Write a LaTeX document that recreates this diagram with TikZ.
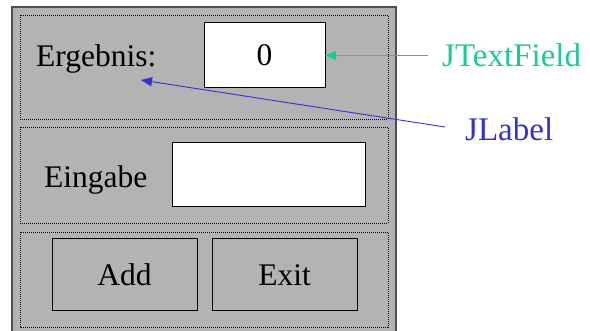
\documentclass[tikz,border=0pt]{standalone}
\usepackage{fontspec}
\setmainfont{Liberation Serif}
\usetikzlibrary{arrows.meta}
\definecolor{panelgray}{HTML}{B3B3B3}
\definecolor{framegray}{HTML}{4D4D4D}
\definecolor{tfgreen}{HTML}{1BC99A}
\definecolor{lblblue}{HTML}{3333CC}
\tikzset{
  x=1pt, y=-1pt,
  frame/.style={fill=panelgray, draw=framegray, line width=1.5pt},
  panel/.style={draw=black, line width=0.7pt, dash pattern=on 1pt off 1pt},
  field/.style={fill=white, draw=black, line width=1pt},
  button/.style={draw=black, line width=1pt},
  txt/.style={font=\fontsize{31.5}{36}\selectfont, inner sep=0pt},
  note/.style={font=\fontsize{33}{36}\selectfont, inner sep=0pt},
  pointer/.style={line width=0.9pt, -{Triangle[length=11pt,width=9pt]}}
}
\begin{document}
\begin{tikzpicture}
\useasboundingbox (0,0) rectangle (590,331);
% window frame
\path[frame] (12,7) -- (12,336) -- (396,336) -- (396,7) -- cycle;
% three dotted panels
\draw[panel] (20,15) rectangle (388,119);
\draw[panel] (20,127) rectangle (388,223);
\draw[panel] (20,232) rectangle (388,327);
% first row
\node[txt, anchor=base west] (erg) at (36,67) {Ergebnis:};
\draw[field] (204,23) rectangle (325,88);
\node[txt] (res) at (264.5,55.5) {0};
\coordinate (resE) at (325,55.5);
% second row
\node[txt, anchor=base west] (ein) at (44,188) {Eingabe};
\draw[field] (172,143) rectangle (365,207);
% buttons
\draw[button] (52,239) rectangle (197,311);
\node[txt] (add) at (124.5,275) {Add};
\draw[button] (212,239) rectangle (357,311);
\node[txt] (exit) at (284.5,275) {Exit};
% annotations
\node[note, text=tfgreen, anchor=base west] (jtf) at (442,67) {JTextField};
\node[note, text=lblblue, anchor=base west] (jl) at (465,141) {JLabel};
\coordinate (tfstart) at (428,55.5);
\coordinate (jlstart) at (445,127);
\coordinate (ergpt) at (141,80);
\draw[pointer, tfgreen] (tfstart) -- (resE);
\draw[pointer, lblblue] (jlstart) -- (ergpt);
\end{tikzpicture}
\end{document}
